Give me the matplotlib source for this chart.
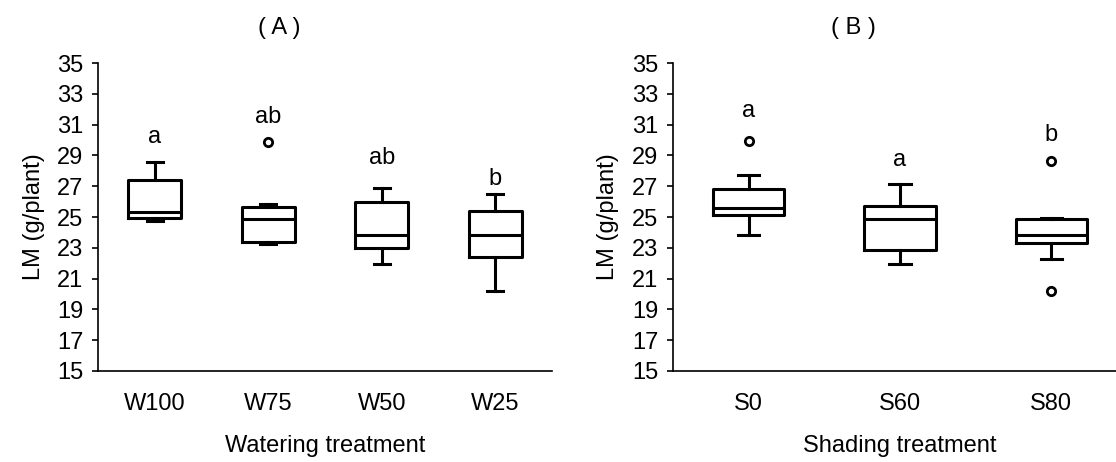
import matplotlib
matplotlib.use("Agg")
import matplotlib.pyplot as plt

plt.rcParams['font.family'] = ['Liberation Sans', 'DejaVu Sans']

# Watering treatment (A): five-number summaries, outliers and letter groups
water_labels = ['W100', 'W75', 'W50', 'W25']
water_whislo = [24.76, 23.25, 21.95, 20.21]
water_q1 = [24.91, 23.36, 22.97, 22.42]
water_med = [25.34, 24.85, 23.83, 23.83]
water_q3 = [27.40, 25.67, 25.95, 25.39]
water_whishi = [28.55, 25.82, 26.86, 26.47]
water_fliers = [[], [29.85], [], []]
water_letters = ['a', 'ab', 'ab', 'b']
water_letter_y = [29.83, 31.08, 28.42, 27.08]

# Shading treatment (B)
shade_labels = ['S0', 'S60', 'S80']
shade_whislo = [23.85, 21.96, 22.28]
shade_q1 = [25.13, 22.85, 23.28]
shade_med = [25.60, 24.85, 23.83]
shade_q3 = [26.80, 25.70, 24.87]
shade_whishi = [27.72, 27.15, 24.93]
shade_fliers = [[29.93], [], [28.61, 20.22]]
shade_letters = ['a', 'a', 'b']
shade_letter_y = [31.52, 28.30, 29.93]

FS = 17
LW = 2.2


def make_stats(labels, lo, q1, med, q3, hi, fl):
    return [dict(label=l, whislo=a, q1=b, med=c, q3=d, whishi=e, fliers=f)
            for l, a, b, c, d, e, f in zip(labels, lo, q1, med, q3, hi, fl)]


def draw_panel(ax, stats, letters, letter_y, xlabel, xmax):
    n = len(stats)
    pos = list(range(1, n + 1))
    line = dict(color='black', linewidth=LW)
    ax.bxp(stats, positions=pos, widths=0.47, showfliers=True,
           boxprops=line, medianprops=line, whiskerprops=line,
           capprops=line, capwidths=0.14,
           flierprops=dict(marker='o', markersize=6, markerfacecolor='white',
                           markeredgecolor='black', markeredgewidth=2))
    for x, t, y in zip(pos, letters, letter_y):
        ax.text(x, y, t, ha='center', va='baseline', fontsize=FS)
    ax.set_xlim(0.5, xmax)
    ax.set_ylim(15, 35)
    ax.set_yticks(range(15, 36, 2))
    ax.set_ylabel('LM (g/plant)', fontsize=FS, labelpad=9)
    ax.set_xlabel(xlabel, fontsize=FS, labelpad=14)
    ax.spines['top'].set_visible(False)
    ax.spines['right'].set_visible(False)
    for s in ('left', 'bottom'):
        ax.spines[s].set_linewidth(1.2)
    ax.tick_params(axis='y', direction='out', length=4.5, width=1.2,
                   labelsize=FS, pad=6)
    ax.tick_params(axis='x', length=0, labelsize=FS, pad=16)


fig = plt.figure(figsize=(11.16, 4.62), dpi=100)
ax1 = fig.add_axes([0.0878, 0.197, 0.4068, 0.6666])
ax2 = fig.add_axes([0.603, 0.197, 0.4068, 0.6666])

draw_panel(ax1, make_stats(water_labels, water_whislo, water_q1, water_med,
                           water_q3, water_whishi, water_fliers),
           water_letters, water_letter_y, 'Watering treatment', 4.5)
draw_panel(ax2, make_stats(shade_labels, shade_whislo, shade_q1, shade_med,
                           shade_q3, shade_whishi, shade_fliers),
           shade_letters, shade_letter_y, 'Shading treatment', 3.5)

fig.text(279 / 1116, 1 - 28 / 462, '( A )', ha='center', va='center', fontsize=FS)
fig.text(853 / 1116, 1 - 28 / 462, '( B )', ha='center', va='center', fontsize=FS)

fig.savefig('out.png', dpi=100)
